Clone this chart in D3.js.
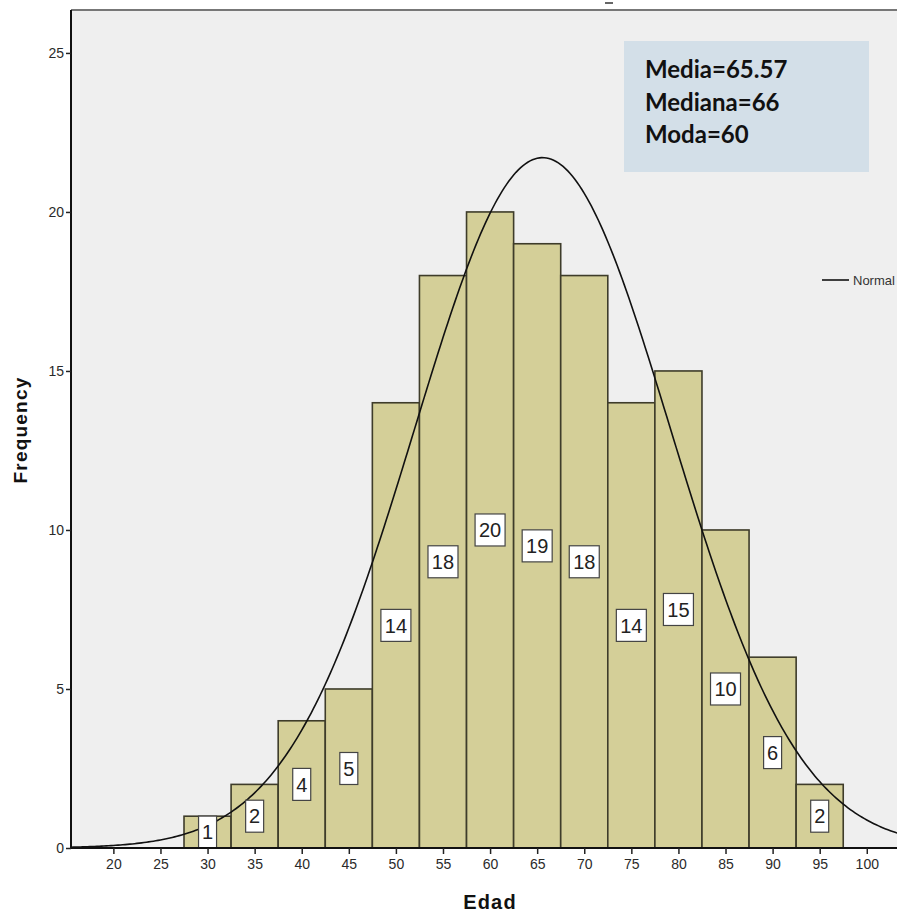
<!DOCTYPE html>
<html>
<head>
<meta charset="utf-8">
<script src="https://cdn.jsdelivr.net/npm/d3@7"></script>
<style>
  body { margin: 0; background: #fff; }
  svg { display: block; }
</style>
</head>
<body>
<div id="chart"></div>
<script>
// histogram bins (Edad) and counts
const binStarts = [27.5, 32.5, 37.5, 42.5, 47.5, 52.5, 57.5, 62.5, 67.5, 72.5, 77.5, 82.5, 87.5, 92.5];
const binWidth = 5;
const counts = [1, 2, 4, 5, 14, 18, 20, 19, 18, 14, 15, 10, 6, 2];
const xTicks = [20, 25, 30, 35, 40, 45, 50, 55, 60, 65, 70, 75, 80, 85, 90, 95, 100];
const yTicks = [0, 5, 10, 15, 20, 25];
const statsLines = ["Media=65.57", "Mediana=66", "Moda=60"];

// normal fit parameters
const mean = 65.57;
const sd = 13.6;
const total = d3.sum(counts);

const width = 897, height = 913;
const margin = { top: 10, left: 71, bottom: 848 };
const axisFont = 'Liberation Sans, Arial, sans-serif';

const svg = d3.select('#chart')
    .append('svg')
    .attr('width', width)
    .attr('height', height);

const xScale = d3.scaleLinear()
    .domain([15.5, 104])
    .range([margin.left, margin.left + 88.5 * 9.4175]);

const yScale = d3.scaleLinear()
    .domain([0, 26.35])
    .range([margin.bottom, margin.top]);

// plot background
svg.append('rect')
    .attr('x', margin.left)
    .attr('y', margin.top)
    .attr('width', width - margin.left)
    .attr('height', margin.bottom - margin.top)
    .attr('fill', '#efefef');

// top border
svg.append('line')
    .attr('x1', margin.left).attr('x2', width)
    .attr('y1', margin.top).attr('y2', margin.top)
    .attr('stroke', '#777').attr('stroke-width', 2);

// leftover of a cut-off title
svg.append('line')
    .attr('x1', 605).attr('x2', 613)
    .attr('y1', 3).attr('y2', 3)
    .attr('stroke', '#333').attr('stroke-width', 1.5);

// bars
const bars = binStarts.map((s, i) => ({ x0: s, x1: s + binWidth, n: counts[i] }));

svg.append('g')
    .selectAll('rect')
    .data(bars)
    .enter()
    .append('rect')
    .attr('x', d => xScale(d.x0))
    .attr('y', d => yScale(d.n))
    .attr('width', d => xScale(d.x1) - xScale(d.x0))
    .attr('height', d => yScale(0) - yScale(d.n))
    .attr('fill', '#d4cf98')
    .attr('stroke', '#3e3c2a')
    .attr('stroke-width', 1.6);

// normal curve
const curvePts = d3.range(15.5, 104.01, 0.25).map(v => ({
    x: v,
    y: total * binWidth / (sd * Math.sqrt(2 * Math.PI)) * Math.exp(-0.5 * Math.pow((v - mean) / sd, 2))
}));

const lineGen = d3.line()
    .x(d => xScale(d.x))
    .y(d => yScale(d.y));

svg.append('path')
    .attr('d', lineGen(curvePts))
    .attr('fill', 'none')
    .attr('stroke', '#111')
    .attr('stroke-width', 1.6);

// count labels
const labels = svg.append('g')
    .selectAll('g')
    .data(bars)
    .enter()
    .append('g')
    .attr('transform', d => `translate(${xScale(d.x0 + binWidth / 2)},${yScale(d.n / 2)})`);

labels.append('rect')
    .attr('x', d => String(d.n).length > 1 ? -15 : -9)
    .attr('y', -16)
    .attr('width', d => String(d.n).length > 1 ? 30 : 18)
    .attr('height', 32)
    .attr('fill', '#fff')
    .attr('stroke', '#444')
    .attr('stroke-width', 1.2);

labels.append('text')
    .attr('text-anchor', 'middle')
    .attr('dy', '0.36em')
    .style('font-family', axisFont)
    .style('font-size', '20px')
    .style('fill', '#222')
    .text(d => d.n);

// axes
const xAxis = d3.axisBottom(xScale).tickValues(xTicks).tickSize(6).tickPadding(5);
const yAxis = d3.axisLeft(yScale).tickValues(yTicks).tickSize(5).tickPadding(2);

const gx = svg.append('g')
    .attr('transform', `translate(0,${margin.bottom})`)
    .call(xAxis);
gx.select('.domain').attr('d', `M${margin.left},0H${width}`).attr('stroke', '#111').attr('stroke-width', 2);

const gy = svg.append('g')
    .attr('transform', `translate(${margin.left},0)`)
    .call(yAxis);
gy.select('.domain').attr('d', `M0,${margin.top}V${margin.bottom}`).attr('stroke', '#111').attr('stroke-width', 2);

svg.selectAll('.tick line').attr('stroke', '#222').attr('stroke-width', 1.5);
svg.selectAll('.tick text')
    .style('font-family', axisFont)
    .style('font-size', '14px')
    .style('fill', '#2a2a2a');

// axis titles
svg.append('text')
    .attr('x', 490)
    .attr('y', 909)
    .attr('text-anchor', 'middle')
    .style('font-family', axisFont)
    .style('font-weight', 'bold')
    .style('font-size', '20px')
    .style('letter-spacing', '1.2px')
    .style('fill', '#111')
    .text('Edad');

svg.append('text')
    .attr('transform', 'translate(27,430) rotate(-90)')
    .attr('text-anchor', 'middle')
    .style('font-family', axisFont)
    .style('font-weight', 'bold')
    .style('font-size', '19px')
    .style('letter-spacing', '1.2px')
    .style('fill', '#111')
    .text('Frequency');

// legend
svg.append('line')
    .attr('x1', 822).attr('x2', 849)
    .attr('y1', 280).attr('y2', 280)
    .attr('stroke', '#111').attr('stroke-width', 1.6);

svg.append('text')
    .attr('x', 853)
    .attr('y', 285)
    .style('font-family', axisFont)
    .style('font-size', '13px')
    .style('fill', '#333')
    .text('Normal');

// stats box
svg.append('rect')
    .attr('x', 624).attr('y', 41)
    .attr('width', 245).attr('height', 131)
    .attr('fill', '#d3dfe8');

svg.append('g')
    .selectAll('text')
    .data(statsLines)
    .enter()
    .append('text')
    .attr('x', 645)
    .attr('y', (d, i) => 78 + i * 32.5)
    .style('font-family', 'Lato, Open Sans, sans-serif')
    .style('font-weight', 'bold')
    .style('font-size', '24px')
    .style('fill', '#111')
    .text(d => d);
</script>
</body>
</html>
